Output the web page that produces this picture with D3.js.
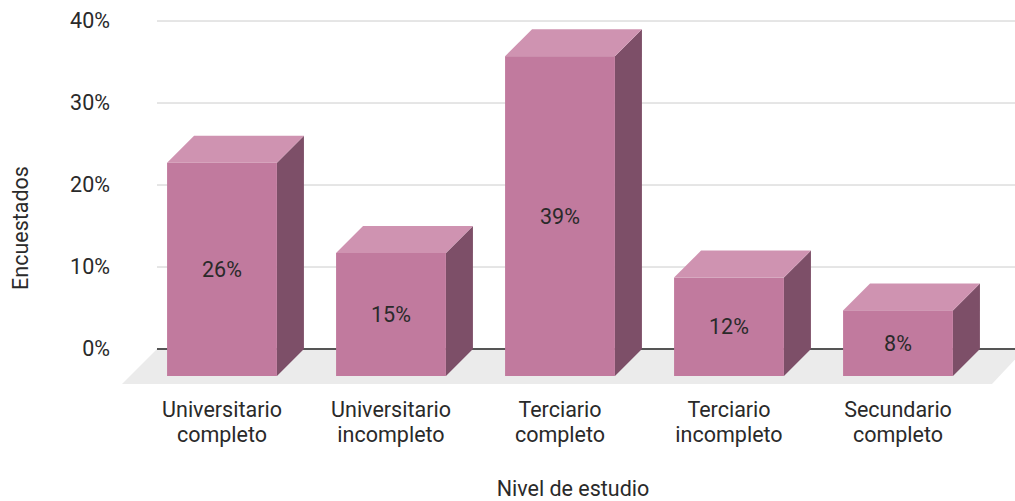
<!DOCTYPE html>
<html>
<head>
<meta charset="utf-8">
<script src="https://cdn.jsdelivr.net/npm/d3@7"></script>
<style>
  html, body { margin: 0; padding: 0; background: #fff; }
  svg { display: block; font-family: Roboto, Arial, sans-serif; }
</style>
</head>
<body>
<svg id="chart" width="1015" height="501"></svg>
<script>
const categories = [
  ["Universitario", "completo"],
  ["Universitario", "incompleto"],
  ["Terciario", "completo"],
  ["Terciario", "incompleto"],
  ["Secundario", "completo"]
];
const values = [0.26, 0.15, 0.39, 0.12, 0.08];
const valueLabels = ["26%", "15%", "39%", "12%", "8%"];
const yTicks = [0, 0.1, 0.2, 0.3, 0.4];
const xTitle = "Nivel de estudio";
const yTitle = "Encuestados";

const svg = d3.select("#chart");
const W = 1015, H = 501;
const FS = 21.5;
const TXT = "#2a2a2a";

// 3D geometry
const depth = 27;      // bar depth offset
const floorDepth = 35; // floor depth offset
const floorDx = 33;

const y = d3.scaleLinear().domain([0, 0.4]).range([349, 21]); // back plane
const keys = categories.map((c, i) => i);
const x = d3.scaleBand().domain(keys).range([137.5, 982.5]).paddingInner(0.35).paddingOuter(0.175);

const colFront = "#c17a9e", colTop = "#cf93b1", colSide = "#7d4f68";

// gridlines
svg.append("g").selectAll("line").data(yTicks.filter(d => d > 0)).join("line")
  .attr("x1", 157).attr("x2", W)
  .attr("y1", d => y(d)).attr("y2", d => y(d))
  .attr("stroke", "#cccccc").attr("stroke-width", 1);

// floor
const y0 = y(0);
svg.append("path")
  .attr("d", `M${157},${y0} L${W + 10},${y0} L${W + 10 - floorDx},${y0 + floorDepth} L${157 - floorDx - 2},${y0 + floorDepth} Z`)
  .attr("fill", "#ebebeb");

// zero line
svg.append("line")
  .attr("x1", 157).attr("x2", W).attr("y1", y0).attr("y2", y0)
  .attr("stroke", "#555").attr("stroke-width", 2);

// y axis labels
const yAxis = d3.axisLeft(y).tickValues(yTicks).tickSize(0).tickPadding(0)
  .tickFormat(d => Math.round(d * 100) + "%");
const gy = svg.append("g").attr("transform", "translate(110,0)").call(yAxis);
gy.select(".domain").remove();
gy.selectAll("text").attr("font-size", FS).attr("fill", TXT).attr("font-family", "Roboto, Arial, sans-serif");

// bars
const bars = svg.append("g").selectAll("g").data(values).join("g");
bars.each(function(v, i) {
  const g = d3.select(this);
  const xl = x(i);
  const w = x.bandwidth();
  const yb = y0 + depth;        // front bottom
  const yt = y(v) + depth;      // front top
  g.append("path")
    .attr("d", `M${xl + w},${yt} L${xl + w + depth},${yt - depth} L${xl + w + depth},${y0} L${xl + w},${yb} Z`)
    .attr("fill", colSide);
  g.append("path")
    .attr("d", `M${xl},${yt} L${xl + depth},${yt - depth} L${xl + w + depth},${yt - depth} L${xl + w},${yt} Z`)
    .attr("fill", colTop);
  g.append("rect")
    .attr("x", xl).attr("y", yt).attr("width", w).attr("height", yb - yt)
    .attr("fill", colFront);
  g.append("text")
    .attr("x", xl + w / 2).attr("y", (yt + yb) / 2)
    .attr("text-anchor", "middle").attr("dy", "0.35em")
    .attr("font-size", FS).attr("fill", TXT)
    .text(valueLabels[i]);
});

// x labels
const xlab = svg.append("g");
categories.forEach((lines, i) => {
  const cx = x(i) + x.bandwidth() / 2;
  const t = xlab.append("text")
    .attr("x", cx)
    .attr("text-anchor", "middle").attr("font-size", FS).attr("fill", TXT);
  lines.forEach((ln, k) => {
    t.append("tspan").attr("x", cx).attr("y", 417 + k * 25).text(ln);
  });
});

// titles
svg.append("text").attr("x", 573).attr("y", 496).attr("text-anchor", "middle")
  .attr("font-size", FS).attr("fill", TXT).text(xTitle);
svg.append("text").attr("transform", "translate(28,228) rotate(-90)")
  .attr("text-anchor", "middle").attr("font-size", FS).attr("fill", TXT).text(yTitle);
</script>
</body>
</html>
